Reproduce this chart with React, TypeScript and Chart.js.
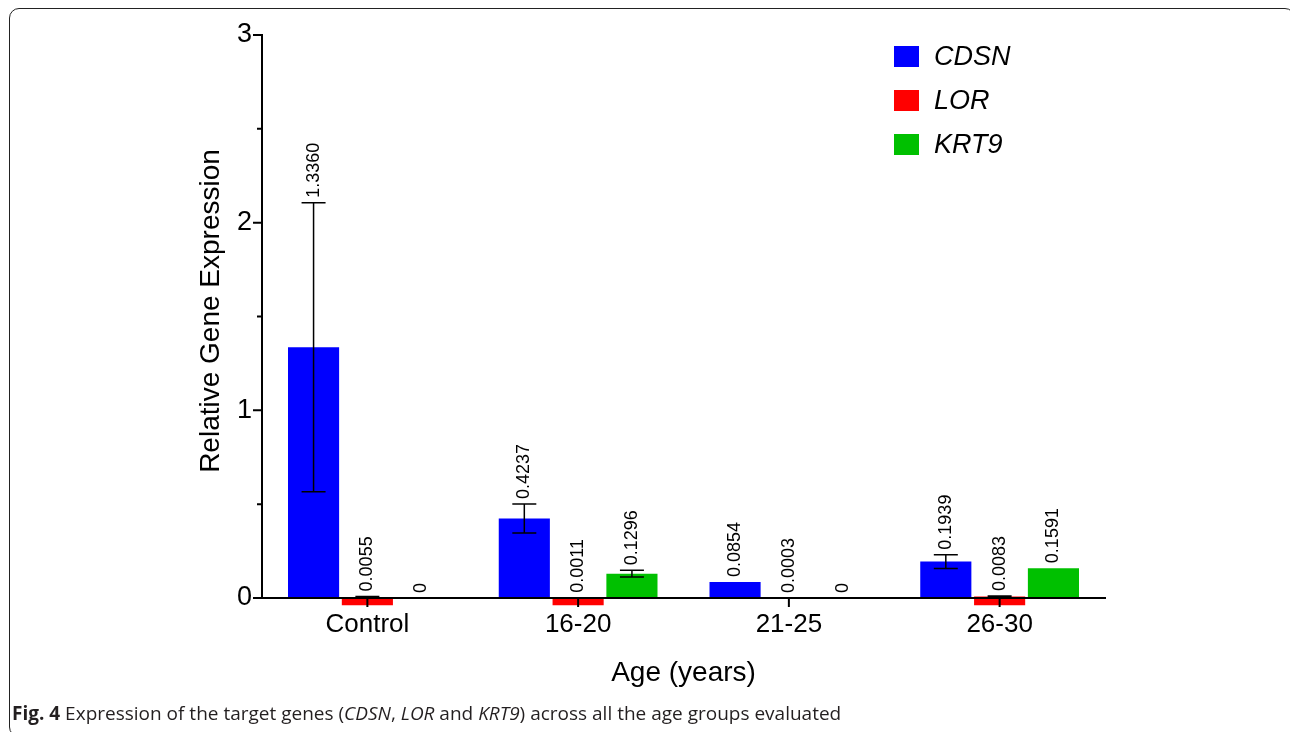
import React, { useEffect, useRef } from "react";
import { Chart, registerables } from "chart.js";

Chart.register(...registerables);

// Age groups on the x axis
const ageGroups = ["Control", "16-20", "21-25", "26-30"];

// Mean relative expression and error (SD) for each gene
const cdsnMean = [1.336, 0.4237, 0.0854, 0.1939];
const cdsnErr = [0.77, 0.0775, 0, 0.037];
const lorMean = [0.0055, 0.0011, 0.0003, 0.0083];
const lorErr = [0.003, 0, 0, 0.002];
const krt9Mean = [0, 0.1296, 0, 0.1591];
const krt9Err = [0, 0.018, 0, 0];

// Y axis ticks
const yMajorTicks = [0, 1, 2, 3];
const yMinorTicks = [0.5, 1.5, 2.5];

const geneNames = ["CDSN", "LOR", "KRT9"];
const geneColors = ["#0000FF", "#FF0000", "#00C000"];
const geneMeans = [cdsnMean, lorMean, krt9Mean];
const geneErrs = [cdsnErr, lorErr, krt9Err];

const yTitle = "Relative Gene Expression";
const xTitle = "Age (years)";

// LOR bars sit as a thin block hanging under the baseline; values this small draw no block
const LOR_BASE = -0.038;
const MIN_VISIBLE = 0.001;

const FONT = "'Liberation Sans', Arial, Helvetica, sans-serif";

const formatValue = (v: number) => (v === 0 ? "0" : v.toFixed(4));

const overlayPlugin = {
  id: "overlay",
  afterDatasetsDraw(chart: any) {
    const { ctx, chartArea } = chart;
    const xs = chart.scales.x;
    const ys = chart.scales.y;
    const yZero = ys.getPixelForValue(0);
    ctx.save();
    ctx.strokeStyle = "#000";
    ctx.fillStyle = "#000";

    // error bars and value labels
    geneMeans.forEach((means, di) => {
      const meta = chart.getDatasetMeta(di);
      means.forEach((v, i) => {
        const cx = meta.data[i].x;
        const err = geneErrs[di][i];
        const yTop = ys.getPixelForValue(v + err);
        if (err > 0) {
          const yBot = ys.getPixelForValue(v - err);
          ctx.lineWidth = 1.5;
          ctx.beginPath();
          ctx.moveTo(cx, yTop);
          ctx.lineTo(cx, yBot);
          ctx.moveTo(cx - 12, yTop);
          ctx.lineTo(cx + 12, yTop);
          ctx.moveTo(cx - 12, yBot);
          ctx.lineTo(cx + 12, yBot);
          ctx.stroke();
        }
        const labelBottom = Math.min(yTop, ys.getPixelForValue(v)) - 5;
        ctx.save();
        ctx.translate(cx, labelBottom);
        ctx.rotate(-Math.PI / 2);
        ctx.font = `18px ${FONT}`;
        ctx.textAlign = "left";
        ctx.textBaseline = "middle";
        ctx.fillText(formatValue(v), 0, 0);
        ctx.restore();
      });
    });

    // axes
    ctx.lineWidth = 2;
    ctx.lineCap = "square";
    ctx.beginPath();
    ctx.moveTo(chartArea.left, ys.getPixelForValue(yMajorTicks[yMajorTicks.length - 1]));
    ctx.lineTo(chartArea.left, yZero);
    ctx.lineTo(chartArea.right, yZero);
    ctx.stroke();

    ctx.lineCap = "butt";
    ctx.beginPath();
    yMajorTicks.forEach((t) => {
      const py = ys.getPixelForValue(t);
      ctx.moveTo(chartArea.left - 9, py);
      ctx.lineTo(chartArea.left, py);
    });
    yMinorTicks.forEach((t) => {
      const py = ys.getPixelForValue(t);
      ctx.moveTo(chartArea.left - 5, py);
      ctx.lineTo(chartArea.left, py);
    });
    ageGroups.forEach((_, i) => {
      const px = xs.getPixelForValue(i);
      ctx.moveTo(px, yZero);
      ctx.lineTo(px, yZero + 9);
    });
    ctx.stroke();
    ctx.restore();
  },
  afterDraw(chart: any) {
    const { ctx } = chart;
    ctx.save();

    // y axis title
    ctx.save();
    ctx.translate(211, 311);
    ctx.rotate(-Math.PI / 2);
    ctx.fillStyle = "#000";
    ctx.font = `28px ${FONT}`;
    ctx.textAlign = "center";
    ctx.textBaseline = "middle";
    ctx.fillText(yTitle, 0, 0);
    ctx.restore();

    // legend
    const left = 894;
    const top = 46;
    const step = 44;
    geneNames.forEach((name, i) => {
      const y = top + i * step;
      ctx.fillStyle = geneColors[i];
      ctx.fillRect(left, y, 25, 21);
      ctx.fillStyle = "#000";
      ctx.font = `italic 27px ${FONT}`;
      ctx.textAlign = "left";
      ctx.textBaseline = "middle";
      ctx.fillText(name, left + 40, y + 11);
    });
    ctx.restore();
  },
};

export default function App() {
  const canvasRef = useRef<HTMLCanvasElement | null>(null);

  useEffect(() => {
    const canvas = canvasRef.current;
    if (!canvas) return;
    const datasets = geneMeans.map((means, di) => {
      const ds: any = {
        label: geneNames[di],
        data: means,
        backgroundColor: geneColors[di],
        borderWidth: 0,
        categoryPercentage: 0.766,
        barPercentage: 0.95,
        clip: false,
      };
      if (geneNames[di] === "LOR") {
        ds.base = LOR_BASE;
        ds.backgroundColor = (c: any) =>
          c.raw !== undefined && c.raw >= MIN_VISIBLE ? geneColors[di] : "rgba(0,0,0,0)";
      }
      return ds;
    });

    const chart = new Chart(canvas, {
      type: "bar",
      data: { labels: ageGroups, datasets },
      options: {
        animation: false,
        responsive: false,
        devicePixelRatio: 1,
        layout: { padding: { top: 35, right: 185, bottom: 34, left: 0 } },
        plugins: {
          legend: { display: false },
          tooltip: { enabled: false },
        },
        scales: {
          x: {
            type: "category",
            grid: { display: false, drawTicks: false },
            border: { display: false },
            ticks: {
              color: "#000",
              font: { family: FONT, size: 26 },
              padding: 11,
              maxRotation: 0,
              autoSkip: false,
            },
            title: {
              display: true,
              text: xTitle,
              color: "#000",
              font: { family: FONT, size: 28 },
              padding: { top: 0, bottom: 8 },
            },
            afterFit: (s: any) => {
              s.height = 100;
            },
          },
          y: {
            min: 0,
            max: 3,
            grid: { display: false, drawTicks: false },
            border: { display: false },
            ticks: {
              stepSize: 1,
              color: "#000",
              font: { family: FONT, size: 27 },
              padding: 10,
            },
            afterFit: (s: any) => {
              s.width = 262;
            },
          },
        },
      },
      plugins: [overlayPlugin],
    });
    return () => chart.destroy();
  }, []);

  return (
    <div
      style={{
        position: "fixed",
        left: 0,
        top: 0,
        width: 1290,
        height: 732,
        overflow: "hidden",
        background: "#fff",
      }}
    >
      <canvas
        ref={canvasRef}
        width={1290}
        height={732}
        style={{ position: "absolute", left: 0, top: 0, width: 1290, height: 732 }}
      />
      <div
        style={{
          position: "absolute",
          left: 9,
          top: 8,
          width: 1284,
          height: 727,
          border: "1.5px solid #222",
          borderRadius: 10,
          pointerEvents: "none",
        }}
      />
      <div
        style={{
          position: "absolute",
          left: 12,
          top: 704,
          fontFamily: "'Open Sans', 'Noto Sans', sans-serif",
          fontSize: 19,
          lineHeight: 1,
          color: "#231f20",
          whiteSpace: "nowrap",
        }}
      >
        <b>Fig. 4</b> Expression of the target genes (<i>CDSN</i>, <i>LOR</i> and <i>KRT9</i>) across all the age groups evaluated
      </div>
    </div>
  );
}
